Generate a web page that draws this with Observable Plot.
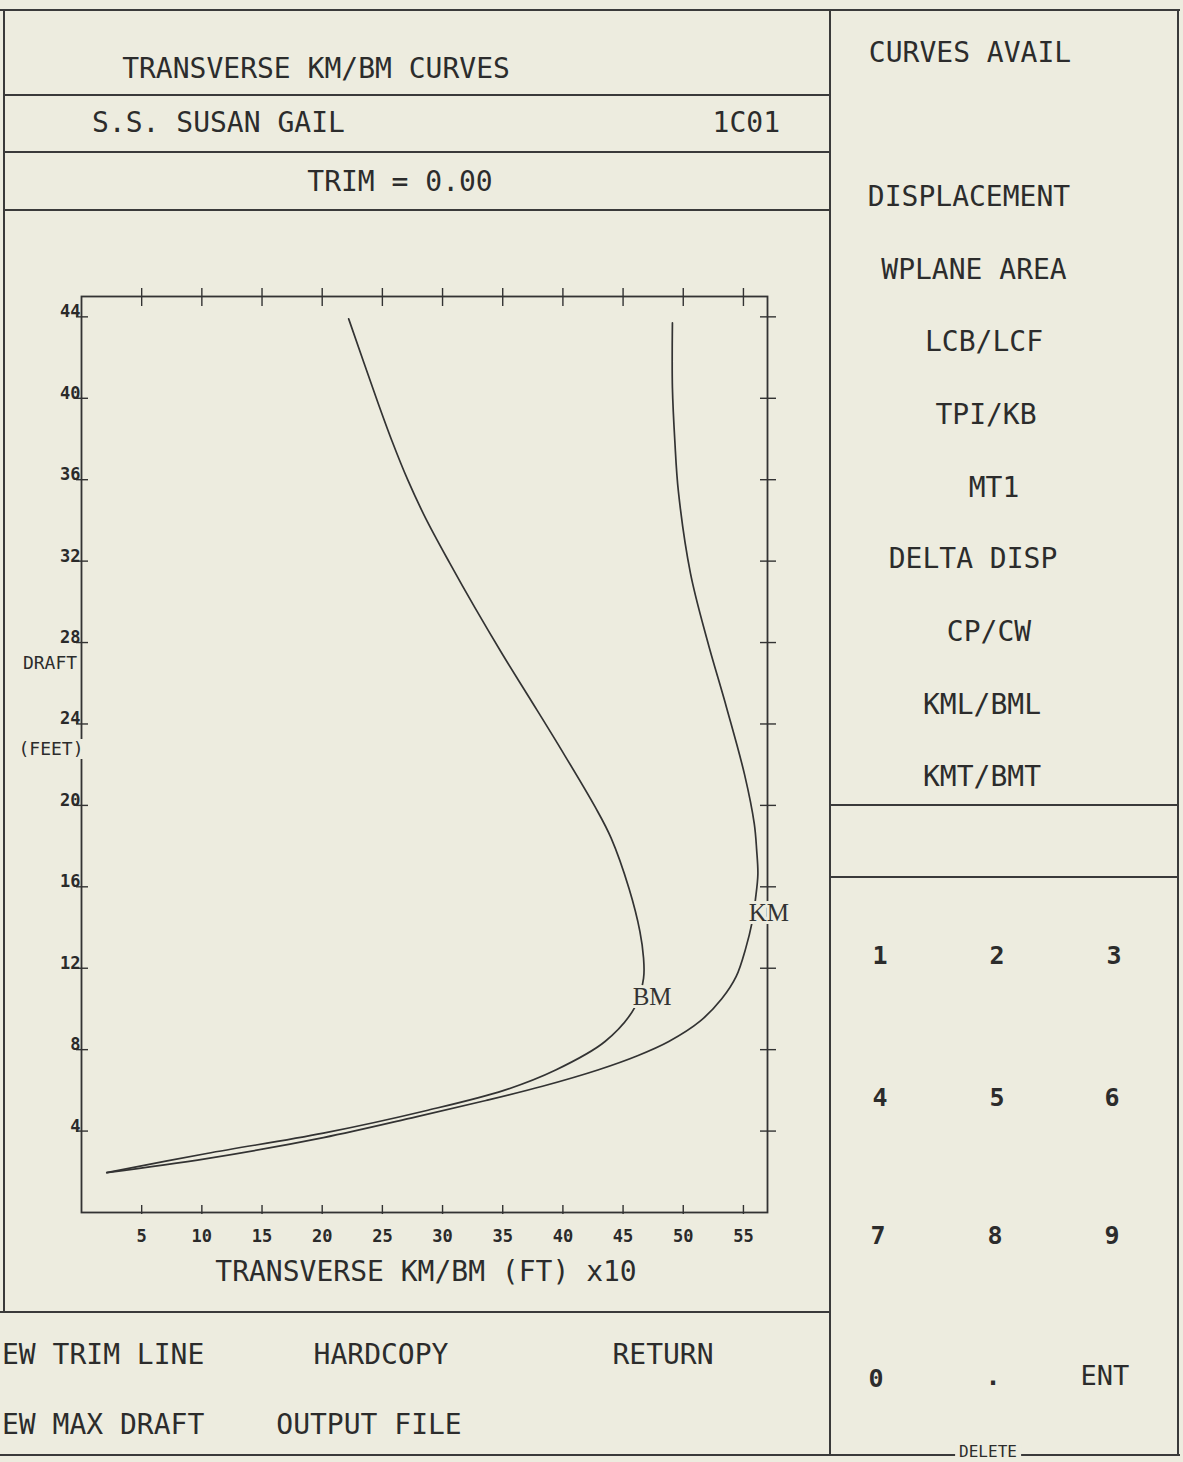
<!DOCTYPE html>
<html><head><meta charset="utf-8">
<script src="https://cdn.jsdelivr.net/npm/d3@7"></script>
<script src="https://cdn.jsdelivr.net/npm/@observablehq/plot@0.6"></script>
<style>
html,body{margin:0;padding:0;background:#edecdf;}
#page{position:relative;width:1183px;height:1462px;overflow:hidden;background:#edecdf;font-family:"DejaVu Sans Mono",monospace;color:#2c2c2c;}
.t{position:absolute;white-space:pre;font-size:28px;line-height:1;}
.hl{position:absolute;height:0;border-top:2px solid #3a3a3a;}
.vl{position:absolute;width:0;border-left:2px solid #3a3a3a;}
</style></head>
<body><div id="page"></div>
<script>
// ---- data ----
const bmDraft = [1.96, 2.9, 3.9, 5.0, 6.0, 7.0, 8.4, 10.1, 11.5, 12.5, 13.8, 15.9, 18.4, 19.9, 22.8, 25.3, 27.4, 29.7, 31.9, 34.1, 36.0, 37.9, 40.0, 43.9];
const bmValue = [2.1, 10.4, 20.1, 28.6, 35.1, 39.4, 43.5, 46.0, 46.7, 46.7, 46.4, 45.5, 44.0, 42.7, 39.8, 37.2, 35.0, 32.7, 30.6, 28.6, 27.1, 25.8, 24.5, 22.2];
const kmDraft = [1.96, 2.65, 3.68, 4.7, 5.5, 6.2, 7.0, 7.7, 8.4, 9.4, 10.5, 11.6, 13.0, 14.2, 15.4, 16.6, 17.8, 19.1, 21.5, 24.8, 28.1, 31.4, 35.4, 37.9, 40.5, 43.7];
const kmValue = [2.1, 10.4, 20.1, 27.8, 33.6, 38.3, 42.9, 46.2, 48.8, 51.4, 53.2, 54.4, 55.2, 55.7, 56.0, 56.2, 56.1, 55.9, 55.1, 53.6, 52.0, 50.6, 49.6, 49.3, 49.1, 49.1];
const curveNames = ["BM", "KM"];
const labelDraft = [10.1, 14.2];
const xTicks = [5, 10, 15, 20, 25, 30, 35, 40, 45, 50, 55];
const yTicks = [4, 8, 12, 16, 20, 24, 28, 32, 36, 40, 44];
const xDomain = [0, 57];
const yDomain = [0, 45];
const titleText = "TRANSVERSE KM/BM CURVES";
const shipName = "S.S. SUSAN GAIL";
const shipCode = "1C01";
const trimText = "TRIM = 0.00";
const yLabel1 = "DRAFT";
const yLabel2 = "(FEET)";
const xLabel = "TRANSVERSE KM/BM (FT) x10";
const menuItems = ["CURVES AVAIL", "DISPLACEMENT", "WPLANE AREA", "LCB/LCF", "TPI/KB", "MT1", "DELTA DISP", "CP/CW", "KML/BML", "KMT/BMT"];
const keypad = ["1", "2", "3", "4", "5", "6", "7", "8", "9", "0", ".", "ENT"];
const bottomMenu = ["EW TRIM LINE", "HARDCOPY", "RETURN", "EW MAX DRAFT", "OUTPUT FILE"];
const deleteText = "DELETE";

// ---- build ----
const bg = "#edecdf", ink = "#333333";
const page = document.getElementById("page");

const series = {BM: {draft: bmDraft, value: bmValue}, KM: {draft: kmDraft, value: kmValue}};
const rows = [];
for (const name of curveNames) {
  const s = series[name];
  s.draft.forEach((d, i) => rows.push({curve: name, draft: d, value: s.value[i]}));
}
const labels = curveNames.map((name, i) => {
  const s = series[name];
  const j = s.draft.indexOf(labelDraft[i]);
  return {curve: name, draft: s.draft[j], value: s.value[j]};
});

const W = 830, H = 1080;
const blank = () => "";
const tickFont = {fontSize: 17, fontWeight: "bold", fill: "#2a2a2a"};
const chart = Plot.plot({
  width: W, height: H,
  marginLeft: 81, marginRight: 63, marginTop: 66, marginBottom: 98,
  x: {domain: xDomain},
  y: {domain: yDomain},
  style: {background: "transparent", color: ink, fontFamily: "'DejaVu Sans Mono', monospace", fontSize: "17px", overflow: "visible"},
  marks: [
    Plot.frame({stroke: ink, strokeWidth: 1.8}),
    Plot.axisX(xTicks, {anchor: "bottom", tickSize: -7, tickFormat: blank, label: null, strokeWidth: 1.4}),
    Plot.axisX(xTicks, {anchor: "bottom", tickSize: 2, tickPadding: 15, label: null, strokeWidth: 1.4, ...tickFont}),
    Plot.axisX(xTicks, {anchor: "top", tickSize: 9, tickFormat: blank, label: null, strokeWidth: 1.4}),
    Plot.axisX(xTicks, {anchor: "top", tickSize: -9, tickFormat: blank, label: null, strokeWidth: 1.4}),
    Plot.axisY(yTicks, {anchor: "left", tickSize: 5, tickFormat: blank, label: null, strokeWidth: 1.4}),
    Plot.axisY(yTicks, {anchor: "left", tickSize: -7, tickFormat: blank, label: null, strokeWidth: 1.4}),
    Plot.axisY(yTicks, {anchor: "left", tickSize: 0, tickPadding: 1, dy: -5, label: null, ...tickFont}),
    Plot.axisY(yTicks, {anchor: "right", tickSize: 8, tickFormat: blank, label: null, strokeWidth: 1.4}),
    Plot.axisY(yTicks, {anchor: "right", tickSize: -8, tickFormat: blank, label: null, strokeWidth: 1.4}),
    Plot.line(rows, {x: "value", y: "draft", z: "curve", curve: "catmull-rom", stroke: ink, strokeWidth: 1.7}),
    Plot.text(labels, {x: "value", y: "draft", text: "curve", dx: 17, dy: -10, fontFamily: "'Liberation Serif', serif", fontSize: 25, fill: ink, stroke: bg, strokeWidth: 6, paintOrder: "stroke"})
  ]
});
chart.style.position = "absolute";
chart.style.left = "0px";
chart.style.top = "230px";
page.appendChild(chart);

function line(cls, l, t, len) {
  const e = document.createElement("div");
  e.className = cls;
  e.style.left = l + "px"; e.style.top = t + "px";
  if (cls === "hl") e.style.width = len + "px"; else e.style.height = len + "px";
  page.appendChild(e);
}
line("hl", 0, 9, 1180);
line("vl", 3, 9, 1303);
line("vl", 829, 9, 1446);
line("vl", 1177, 9, 1446);
line("hl", 3, 94, 826);
line("hl", 3, 151, 826);
line("hl", 3, 209, 826);
line("hl", 829, 804, 349);
line("hl", 829, 876, 349);
line("hl", 0, 1311, 829);
line("hl", 0, 1454, 1180);

function txt(s, x, y, opt = {}) {
  const e = document.createElement("div");
  e.className = "t";
  e.textContent = s;
  const a = opt.align || "center";
  const tx = a === "center" ? "-50%" : a === "right" ? "-100%" : "0";
  e.style.transform = `translate(${tx},-50%)`;
  e.style.left = x + "px"; e.style.top = y + "px";
  if (opt.size) e.style.fontSize = opt.size + "px";
  if (opt.weight) e.style.fontWeight = opt.weight;
  if (opt.bg) { e.style.background = bg; e.style.padding = opt.pad || "0 3px"; }
  page.appendChild(e);
  return e;
}

txt(titleText, 316, 69);
txt(shipName, 92, 123, {align: "left"});
txt(shipCode, 780, 123, {align: "right"});
txt(trimText, 400, 182);

txt(yLabel1, 50, 663, {size: 18, bg: true, pad: "1px 2px"});
txt(yLabel2, 51, 749, {size: 18, bg: true, pad: "1px 2px"});
txt(xLabel, 426, 1272);

const menuPos = [[970, 53], [969, 197], [974, 270], [984, 342], [986, 415], [994, 488], [973, 559], [989, 632], [982, 705], [982, 777]];
menuItems.forEach((m, i) => txt(m, menuPos[i][0], menuPos[i][1]));

const keyPos = [[880, 955], [997, 955], [1114, 955], [880, 1097], [997, 1097], [1112, 1097], [878, 1235], [995, 1235], [1112, 1235], [876, 1378], [993, 1376], [1105, 1375]];
keypad.forEach((k, i) => txt(k, keyPos[i][0], keyPos[i][1], {size: i === 11 ? 27 : 25, weight: i === 11 ? "normal" : "bold"}));

txt(bottomMenu[0], 2, 1355, {align: "left"});
txt(bottomMenu[1], 381, 1355);
txt(bottomMenu[2], 663, 1355);
txt(bottomMenu[3], 2, 1425, {align: "left"});
txt(bottomMenu[4], 369, 1425);
txt(deleteText, 988, 1452, {size: 16, bg: true, pad: "0 4px"});
</script>
</body></html>
